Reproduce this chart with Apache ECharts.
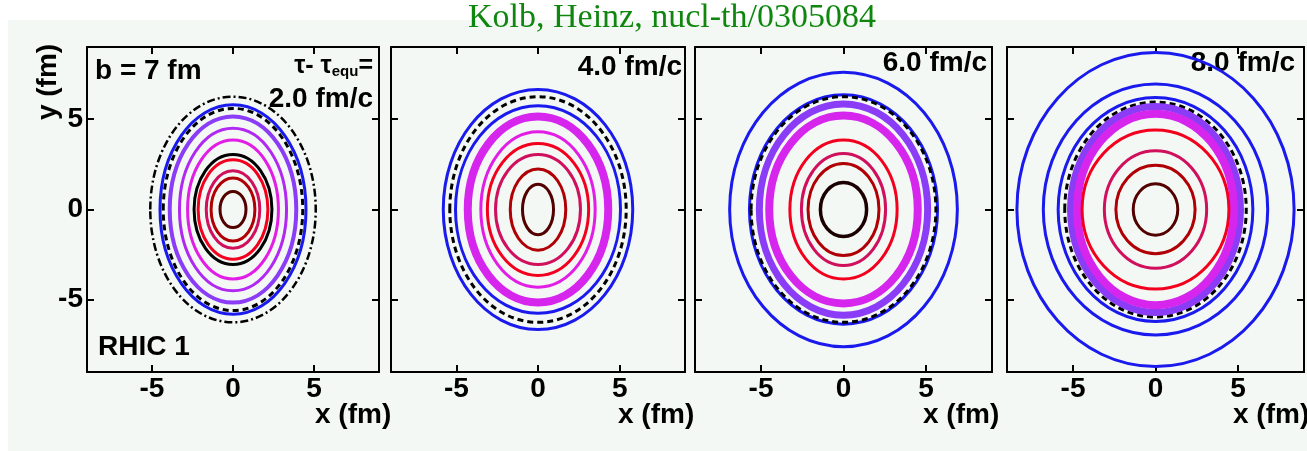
<!DOCTYPE html>
<html>
<head>
<meta charset="utf-8">
<script src="https://cdn.jsdelivr.net/npm/echarts@6/dist/echarts.min.js"></script>
<style>
  html, body { margin: 0; padding: 0; background: #fff; }
  #chart { width: 1307px; height: 451px; }
</style>
</head>
<body>
<div id="chart"></div>
<script>
// contour lines of each time step, outer to inner: level name, semi-axes rx / ry in fm
const xTicks = [-5, 0, 5]
const yTicks = [-5, 0, 5]
const timeLabels = ['2.0 fm/c', '4.0 fm/c', '6.0 fm/c', '8.0 fm/c']

const t2Level = ['dashdot', 'blue', 'dash', 'violet', 'purple', 'magenta', 'black', 'red', 'crimson', 'darkred', 'brown']
const t2Rx = [5.1, 4.5, 4.3, 3.9, 3.3, 2.8, 2.4, 2.15, 1.65, 1.35, 0.8]
const t2Ry = [6.25, 5.8, 5.6, 5.15, 4.5, 3.85, 3.05, 2.75, 2.15, 1.75, 1.0]

const t4Level = ['blue', 'dash', 'blue', 'magentaBand', 'magenta', 'red', 'crimson', 'darkred', 'brown']
const t4Rx = [5.8, 5.4, 5.05, 4.3, 3.5, 3.1, 2.6, 1.7, 0.95]
const t4Ry = [6.65, 6.25, 5.75, 5.15, 4.3, 3.65, 3.05, 2.25, 1.4]

const t6Level = ['blue', 'blue', 'dash', 'violetBand', 'magentaBand', 'red', 'crimson', 'darkred', 'core']
const t6Rx = [6.9, 5.7, 5.6, 5.1, 4.5, 3.25, 2.55, 2.15, 1.4]
const t6Ry = [7.6, 6.35, 6.25, 5.85, 5.2, 3.85, 3.1, 2.55, 1.5]

const t8Level = ['blue', 'blue', 'blue', 'dash', 'violetBand', 'magentaBand', 'red', 'crimson', 'darkred', 'brown']
const t8Rx = [8.4, 6.8, 5.9, 5.5, 5.15, 4.75, 4.45, 3.1, 2.4, 1.35]
const t8Ry = [8.7, 6.95, 6.2, 5.95, 5.7, 5.3, 4.4, 3.25, 2.45, 1.42]

const panels = [
  { level: t2Level, rx: t2Rx, ry: t2Ry },
  { level: t4Level, rx: t4Rx, ry: t4Ry },
  { level: t6Level, rx: t6Rx, ry: t6Ry },
  { level: t8Level, rx: t8Rx, ry: t8Ry }
]

const levelStyle = {
  dashdot: { stroke: '#000', lineWidth: 2.5, lineDash: [8, 3, 2, 3] },
  dash: { stroke: '#000', lineWidth: 3, lineDash: [6, 4] },
  blue: { stroke: '#1a1aee', lineWidth: 3 },
  violet: { stroke: '#8a3cf6', lineWidth: 4 },
  violetBand: { stroke: '#8a3cf6', lineWidth: 7 },
  magentaBand: { stroke: '#d626ee', lineWidth: 8 },
  purple: { stroke: '#b028f2', lineWidth: 3 },
  magenta: { stroke: '#e21ee6', lineWidth: 3 },
  black: { stroke: '#000', lineWidth: 3 },
  red: { stroke: '#f2001e', lineWidth: 3 },
  crimson: { stroke: '#d0105c', lineWidth: 3 },
  darkred: { stroke: '#b00006', lineWidth: 3 },
  brown: { stroke: '#520000', lineWidth: 3 },
  core: { stroke: '#1a0000', lineWidth: 3.5 }
}

// plot boxes in px
const boxes = [
  { left: 87, width: 292 },
  { left: 391, width: 294 },
  { left: 695, width: 297 },
  { left: 1007, width: 297 }
]
const boxTop = 47
const boxHeight = 325

const labelFont = 'Liberation Sans, Arial, sans-serif'
const black = '#000'

const chart = echarts.init(document.getElementById('chart'))

const grids = []
const xAxes = []
const yAxes = []
const series = []

boxes.forEach((b, i) => {
  grids.push({
    left: b.left,
    top: boxTop,
    width: b.width,
    height: boxHeight,
    show: false,
    outerBoundsMode: 'none'
  })
  const tick = { inside: true, length: 7, lineStyle: { color: black, width: 2 } }
  const line = { show: true, onZero: false, lineStyle: { color: black, width: 2 } }
  xAxes.push({
    type: 'value', gridIndex: i, position: 'bottom', min: -9, max: 9,
    axisLine: line,
    axisTick: Object.assign({ customValues: xTicks }, tick),
    axisLabel: {
      customValues: xTicks, color: black, fontSize: 28, fontWeight: 'bold',
      fontFamily: labelFont, margin: 3
    },
    splitLine: { show: false }
  })
  xAxes.push({
    type: 'value', gridIndex: i, position: 'top', min: -9, max: 9,
    axisLine: line,
    axisTick: Object.assign({ customValues: xTicks }, tick),
    axisLabel: { show: false },
    splitLine: { show: false }
  })
  yAxes.push({
    type: 'value', gridIndex: i, position: 'left', min: -9, max: 9,
    axisLine: line,
    axisTick: Object.assign({ customValues: yTicks }, tick),
    axisLabel: {
      show: i === 0, customValues: yTicks, color: black, fontSize: 28, fontWeight: 'bold',
      fontFamily: labelFont, margin: 4
    },
    splitLine: { show: false }
  })
  yAxes.push({
    type: 'value', gridIndex: i, position: 'right', min: -9, max: 9,
    axisLine: line,
    axisTick: Object.assign({ customValues: yTicks }, tick),
    axisLabel: { show: false },
    splitLine: { show: false }
  })

  const p = panels[i]
  series.push({
    type: 'custom',
    xAxisIndex: i * 2,
    yAxisIndex: i * 2,
    silent: true,
    animation: false,
    data: p.rx.map((v, k) => [v, p.ry[k]]),
    renderItem(params, api) {
      const c = api.coord([0, 0])
      const s = api.size([api.value(0), api.value(1)])
      const st = levelStyle[p.level[params.dataIndex]]
      return {
        type: 'ellipse',
        shape: { cx: c[0], cy: c[1], rx: s[0], ry: s[1] },
        style: Object.assign({ fill: 'none' }, st)
      }
    }
  })
})

const textStyle = (extra) => Object.assign({
  fontFamily: labelFont, fontSize: 28, fontWeight: 'bold', fill: black
}, extra)

const graphics = [
  {
    type: 'rect', z: -100, silent: true,
    shape: { x: 8, y: 20, width: 1299, height: 431 },
    style: { fill: '#f4f8f4' }
  },
  {
    type: 'text', x: 48, y: 82, rotation: Math.PI / 2,
    style: textStyle({ text: 'y (fm)', align: 'center', verticalAlign: 'middle' })
  },
  {
    type: 'text', x: 95, y: 71,
    style: textStyle({ text: 'b = 7 fm', align: 'left', verticalAlign: 'middle' })
  },
  {
    type: 'text', x: 98, y: 347,
    style: textStyle({ text: 'RHIC 1', align: 'left', verticalAlign: 'middle' })
  },
  {
    type: 'text', x: 373, y: 66,
    style: {
      text: '{t|τ- τ}{s|equ}{t|=}',
      align: 'right', verticalAlign: 'middle',
      rich: {
        t: { fontFamily: labelFont, fontSize: 25, fontWeight: 'bold', fill: black },
        s: { fontFamily: labelFont, fontSize: 15, fontWeight: 'bold', fill: black, padding: [12, 0, 0, 0] }
      }
    }
  }
]

const timeY = [99, 67, 63, 63]
const timeRight = [373, 682, 987, 1295]
timeLabels.forEach((t, i) => {
  graphics.push({
    type: 'text', x: timeRight[i], y: timeY[i],
    style: textStyle({ text: t, align: 'right', verticalAlign: 'middle' })
  })
})

const xNameLeft = [315, 618, 923, 1233]
xNameLeft.forEach((x) => {
  graphics.push({
    type: 'text', x: x, y: 415,
    style: textStyle({ text: 'x (fm)', align: 'left', verticalAlign: 'middle' })
  })
})

chart.setOption({
  animation: false,
  backgroundColor: '#fff',
  title: {
    text: 'Kolb, Heinz, nucl-th/0305084',
    left: 672,
    top: 1,
    textAlign: 'center',
    padding: 0,
    textStyle: {
      fontFamily: 'Liberation Serif, Times New Roman, serif',
      fontSize: 34,
      fontWeight: 'normal',
      color: '#0f870f'
    }
  },
  grid: grids,
  xAxis: xAxes,
  yAxis: yAxes,
  graphic: graphics,
  series: series
})
</script>
</body>
</html>
